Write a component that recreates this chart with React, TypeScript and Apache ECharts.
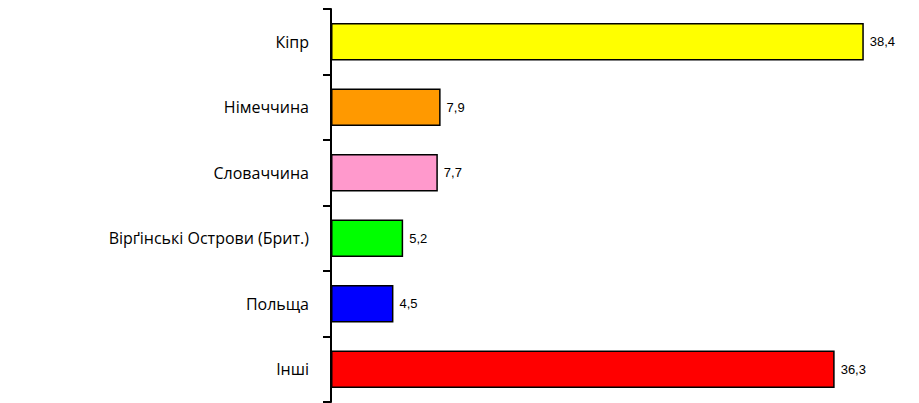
import React, { useEffect, useRef } from "react";
import * as echarts from "echarts";

const categories = ["Кіпр", "Німеччина", "Словаччина", "Вірґінські Острови (Брит.)", "Польща", "Інші"];
const values = [38.4, 7.9, 7.7, 5.2, 4.5, 36.3];
const colors = ["#FFFF00", "#FF9900", "#FF99CC", "#00FF00", "#0000FF", "#FF0000"];

export default function App() {
  const ref = useRef<HTMLDivElement>(null);
  useEffect(() => {
    if (!ref.current) return;
    const chart = echarts.init(ref.current, null, { renderer: "svg" });
    chart.setOption({
      animation: false,
      backgroundColor: "#ffffff",
      grid: { left: 331, right: 33, top: 9, bottom: 1, containLabel: false },
      xAxis: {
        type: "value",
        min: 0,
        max: 40,
        show: false,
        splitLine: { show: false },
      },
      yAxis: {
        type: "category",
        data: categories,
        inverse: true,
        axisLine: { show: true, lineStyle: { color: "#000000", width: 2 } },
        axisTick: { show: true, length: 8, lineStyle: { color: "#000000", width: 2 } },
        axisLabel: {
          color: "#000000",
          fontSize: 16,
          fontFamily: "Open Sans",
          margin: 22,
        },
      },
      series: [
        {
          type: "bar",
          data: values.map((v, i) => ({
            value: v,
            itemStyle: { color: colors[i], borderColor: "#000000", borderWidth: 1.5 },
          })),
          barCategoryGap: "43%",
          label: {
            show: true,
            position: "right",
            distance: 6,
            color: "#000000",
            fontSize: 13,
            fontFamily: "Liberation Sans",
            formatter: (p: any) => String(p.value).replace(".", ","),
          },
        },
      ],
    });
    return () => chart.dispose();
  }, []);
  return (
    <div
      ref={ref}
      style={{ position: "absolute", left: 0, top: 0, width: 919, height: 403 }}
    />
  );
}
